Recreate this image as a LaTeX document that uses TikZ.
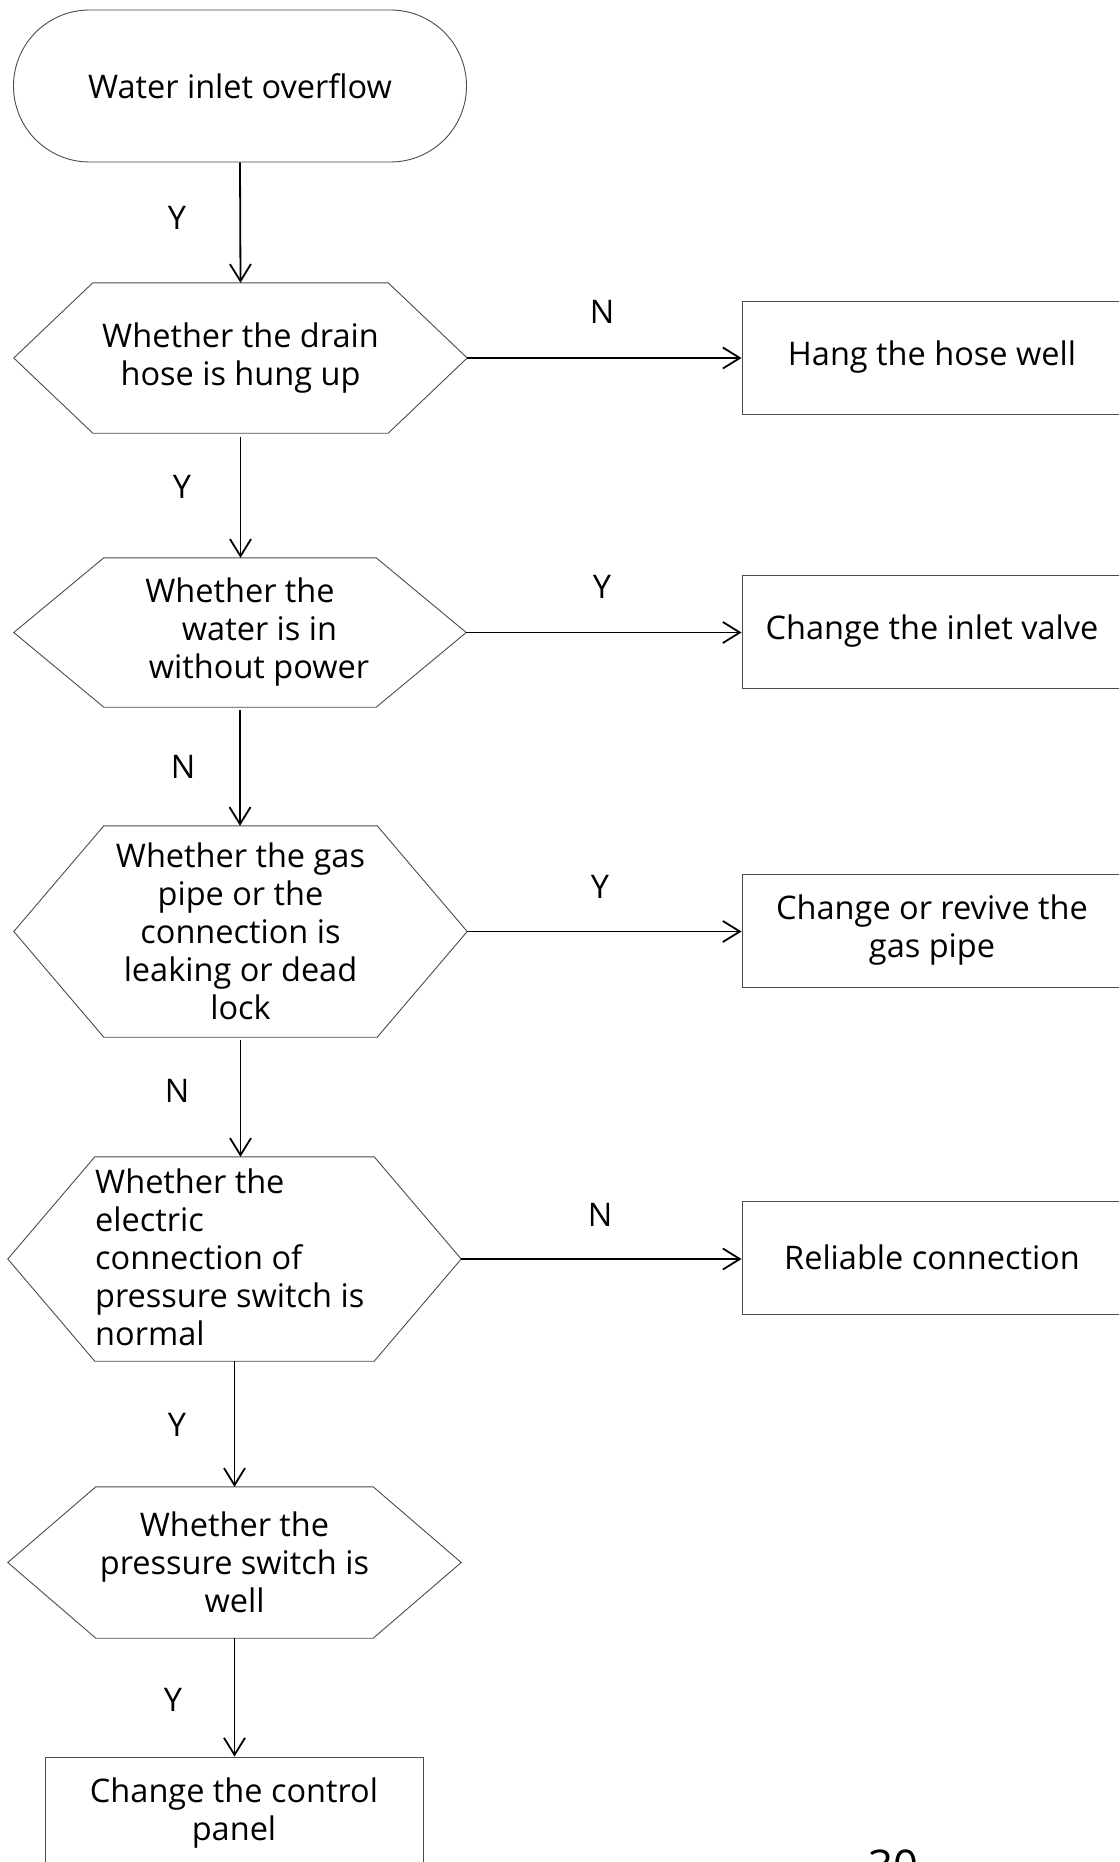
\documentclass[tikz,border=0pt]{standalone}
\usepackage{fontspec}
\setmainfont{Open Sans}
\usetikzlibrary{arrows.meta,shapes.misc}

\newcommand\drawhex[2]{%
  \draw[hexline] (#1.west) -- ([xshift=#2]#1.north west) -- ([xshift=-#2]#1.north east)
    -- (#1.east) -- ([xshift=-#2]#1.south east) -- ([xshift=#2]#1.south west) -- cycle;}

\begin{document}
\begin{tikzpicture}[x=1pt,y=-1pt,
  every node/.style={font=\fontsize{32.5}{38}\selectfont},
  hexline/.style={draw=black!70, line width=0.9pt},
  hexbox/.style={rectangle, inner sep=0pt, align=center},
  boxnode/.style={rectangle, draw=black!70, line width=0.9pt, minimum width=380pt,
    minimum height=113pt, align=center, inner sep=0pt},
  conn/.style={line width=1.8pt, -{Straight Barb[length=17pt,width=21pt,line width=1.8pt]}},
  lbl/.style={inner sep=0pt}]

\useasboundingbox (0,0) rectangle (1119,1862);
\clip (0,0) rectangle (1119,1862);
\fill[white] (0,0) rectangle (1119,1862);

% start
\node[rounded rectangle, draw=black!70, line width=0.9pt, minimum width=453pt,
  minimum height=152pt, inner sep=0pt] (start) at (240,86) {Water inlet overflow};

% decisions
\node[hexbox, minimum width=453pt, minimum height=150pt] (h1) at (240.5,358)
  {Whether the drain\\hose is hung up};
\drawhex{h1}{79}

\node[hexbox, minimum width=452pt, minimum height=149pt] (h2) at (240,632.5)
  {Whether the\\\hspace*{39pt}water is in\\\hspace*{38pt}without power};
\drawhex{h2}{90}

\node[hexbox, minimum width=453pt, minimum height=211pt] (h3) at (240.5,931.5)
  {Whether the gas\\pipe or the\\connection is\\leaking or dead\\lock};
\drawhex{h3}{90}

\node[hexbox, minimum width=453pt, minimum height=204pt] (h4) at (234.5,1259) {};
\drawhex{h4}{87}
\node[anchor=west, align=left, inner sep=0pt] (t4) at (95,1257)
  {Whether the\\electric\\connection of\\pressure switch is\\normal};

\node[hexbox, minimum width=453pt, minimum height=151pt] (h5) at (234.5,1562.5)
  {Whether the\\pressure switch is\\well};
\drawhex{h5}{88}

% action boxes
\node[boxnode] (b1) at (932,357.5) {Hang the hose well};
\node[boxnode] (b2) at (932,631.5) {Change the inlet valve};
\node[boxnode] (b3) at (932,930.5) {Change or revive the\\gas pipe};
\node[boxnode] (b4) at (932,1257.5) {Reliable connection};
\node[boxnode, minimum width=378pt] (b5) at (234,1813.5) {Change the control\\panel};

% connectors
\draw[conn] (start.south) -- (h1.north);
\draw[conn, shorten <=4pt] (h1.south) -- (h1.south |- h2.north);
\draw[conn, shorten <=3pt] (h2.south) -- (h2.south |- h3.north);
\draw[conn, shorten <=3pt] (h3.south) -- (h3.south |- h4.north);
\draw[conn] (h4.south) -- (h5.north);
\draw[conn] (h5.south) -- (h5.south |- b5.north);

\draw[conn] (h1.east) -- (h1.east -| b1.west);
\draw[conn] (h2.east) -- (h2.east -| b2.west);
\draw[conn] (h3.east) -- (h3.east -| b3.west);
\draw[conn] (h4.east) -- (h4.east -| b4.west);

% labels
\node[lbl] (l1) at (177,218) {Y};
\node[lbl] (l2) at (602,312) {N};
\node[lbl] (l3) at (182,487) {Y};
\node[lbl] (l4) at (602,587) {Y};
\node[lbl] (l5) at (183,767) {N};
\node[lbl] (l6) at (600,887) {Y};
\node[lbl] (l7) at (177,1091) {N};
\node[lbl] (l8) at (600,1215) {N};
\node[lbl] (l9) at (177,1425) {Y};
\node[lbl] (l10) at (173,1700) {Y};

% page number (cut off at the bottom)
\node[anchor=base, inner sep=0pt, font=\fontsize{43.7}{50}\selectfont] (pg) at (893,1881) {30};
\end{tikzpicture}
\end{document}
